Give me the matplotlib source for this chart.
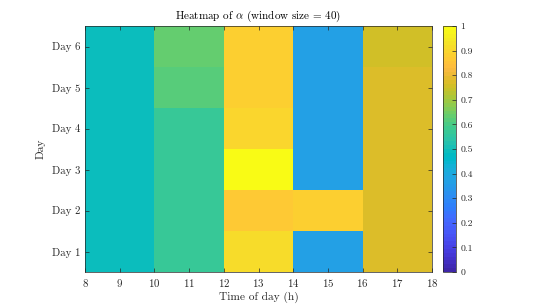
import numpy as np
import matplotlib
matplotlib.use("Agg")
import matplotlib.pyplot as plt
from matplotlib.colors import ListedColormap

plt.rcParams['font.family'] = 'serif'
plt.rcParams['font.serif'] = ['cmr10', 'DejaVu Serif']
plt.rcParams['mathtext.fontset'] = 'cm'
plt.rcParams['axes.formatter.use_mathtext'] = True

# Data
hours = [8, 10, 12, 14, 16, 18]          # bin edges
day_labels = ['Day 1', 'Day 2', 'Day 3', 'Day 4', 'Day 5', 'Day 6']
# rows: Day 1..Day 6, columns: 8-10, 10-12, 12-14, 14-16, 16-18
alpha_vals = np.array([
    [0.49, 0.575, 0.91, 0.37, 0.775],   # Day 1
    [0.49, 0.575, 0.86, 0.89, 0.775],   # Day 2
    [0.49, 0.575, 1.00, 0.37, 0.775],   # Day 3
    [0.49, 0.575, 0.90, 0.37, 0.775],   # Day 4
    [0.49, 0.615, 0.88, 0.37, 0.775],   # Day 5
    [0.49, 0.630, 0.88, 0.37, 0.755],   # Day 6
])

parula_data = [
[0.2422,0.1504,0.6603],[0.2504,0.1650,0.7076],[0.2578,0.1818,0.7511],[0.2647,0.1978,0.7952],
[0.2706,0.2147,0.8364],[0.2751,0.2342,0.8710],[0.2783,0.2559,0.8991],[0.2803,0.2782,0.9221],
[0.2813,0.3006,0.9414],[0.2810,0.3228,0.9579],[0.2795,0.3447,0.9717],[0.2760,0.3667,0.9829],
[0.2699,0.3892,0.9906],[0.2602,0.4123,0.9952],[0.2440,0.4358,0.9988],[0.2206,0.4603,0.9973],
[0.1963,0.4847,0.9892],[0.1834,0.5074,0.9798],[0.1786,0.5289,0.9682],[0.1764,0.5499,0.9520],
[0.1687,0.5703,0.9359],[0.1540,0.5902,0.9218],[0.1460,0.6091,0.9079],[0.1380,0.6276,0.8973],
[0.1248,0.6459,0.8883],[0.1113,0.6635,0.8763],[0.0952,0.6798,0.8598],[0.0689,0.6948,0.8394],
[0.0297,0.7082,0.8163],[0.0036,0.7203,0.7917],[0.0067,0.7312,0.7660],[0.0433,0.7411,0.7394],
[0.0964,0.7500,0.7120],[0.1408,0.7584,0.6842],[0.1717,0.7670,0.6554],[0.1938,0.7758,0.6251],
[0.2161,0.7843,0.5923],[0.2470,0.7918,0.5567],[0.2906,0.7973,0.5188],[0.3406,0.8008,0.4789],
[0.3909,0.8029,0.4354],[0.4456,0.8024,0.3909],[0.5044,0.7993,0.3480],[0.5616,0.7942,0.3045],
[0.6174,0.7876,0.2612],[0.6720,0.7793,0.2227],[0.7242,0.7698,0.1910],[0.7738,0.7598,0.1646],
[0.8203,0.7498,0.1535],[0.8634,0.7406,0.1596],[0.9035,0.7330,0.1774],[0.9393,0.7288,0.2100],
[0.9728,0.7298,0.2394],[0.9956,0.7434,0.2371],[0.9970,0.7659,0.2199],[0.9952,0.7893,0.2028],
[0.9892,0.8136,0.1885],[0.9786,0.8386,0.1766],[0.9676,0.8639,0.1643],[0.9610,0.8890,0.1537],
[0.9597,0.9135,0.1423],[0.9628,0.9373,0.1265],[0.9691,0.9606,0.1064],[0.9769,0.9839,0.0805]]
parula = ListedColormap(parula_data, name='parula')

fig = plt.figure(figsize=(5.4, 3.07), dpi=100)
ax = fig.add_axes([85/540, 1-272/307, (432-85)/540, (272-26)/307])
cax = fig.add_axes([443/540, 1-272/307, 12.5/540, (272-26)/307])

y_edges = np.arange(0.5, len(day_labels) + 1, 1.0)
mesh = ax.pcolormesh(hours, y_edges, alpha_vals, cmap=parula, vmin=0, vmax=1)

ax.set_xlim(8, 18)
ax.set_ylim(0.5, 6.5)
ax.set_xticks(range(8, 19))
ax.set_yticks(range(1, 7))
ax.set_yticklabels(day_labels)
fc = '#262626'
ax.tick_params(direction='in', length=3, width=0.5, colors=fc, labelsize=7.8,
               top=True, right=True)
for s in ax.spines.values():
    s.set_color(fc)
    s.set_linewidth(0.5)
ax.set_xlabel('Time of day (h)', fontsize=8.2, color=fc, labelpad=2)
ax.set_ylabel('Day', fontsize=8.2, color=fc, labelpad=4)
ax.set_title(r'Heatmap of $\alpha$ (window size = 40)', fontsize=8, color='black', pad=5)

cb = fig.colorbar(mesh, cax=cax)
cb.set_ticks(np.round(np.arange(0, 1.01, 0.1), 1))
cb.set_ticklabels(['0'] + [f'{v:.1f}' for v in np.arange(0.1, 0.95, 0.1)] + ['1'])
cax.tick_params(direction='in', length=3, width=0.5, colors=fc, labelsize=7)
cb.outline.set_edgecolor(fc)
cb.outline.set_linewidth(0.5)

fig.savefig('out.png', dpi=100)
